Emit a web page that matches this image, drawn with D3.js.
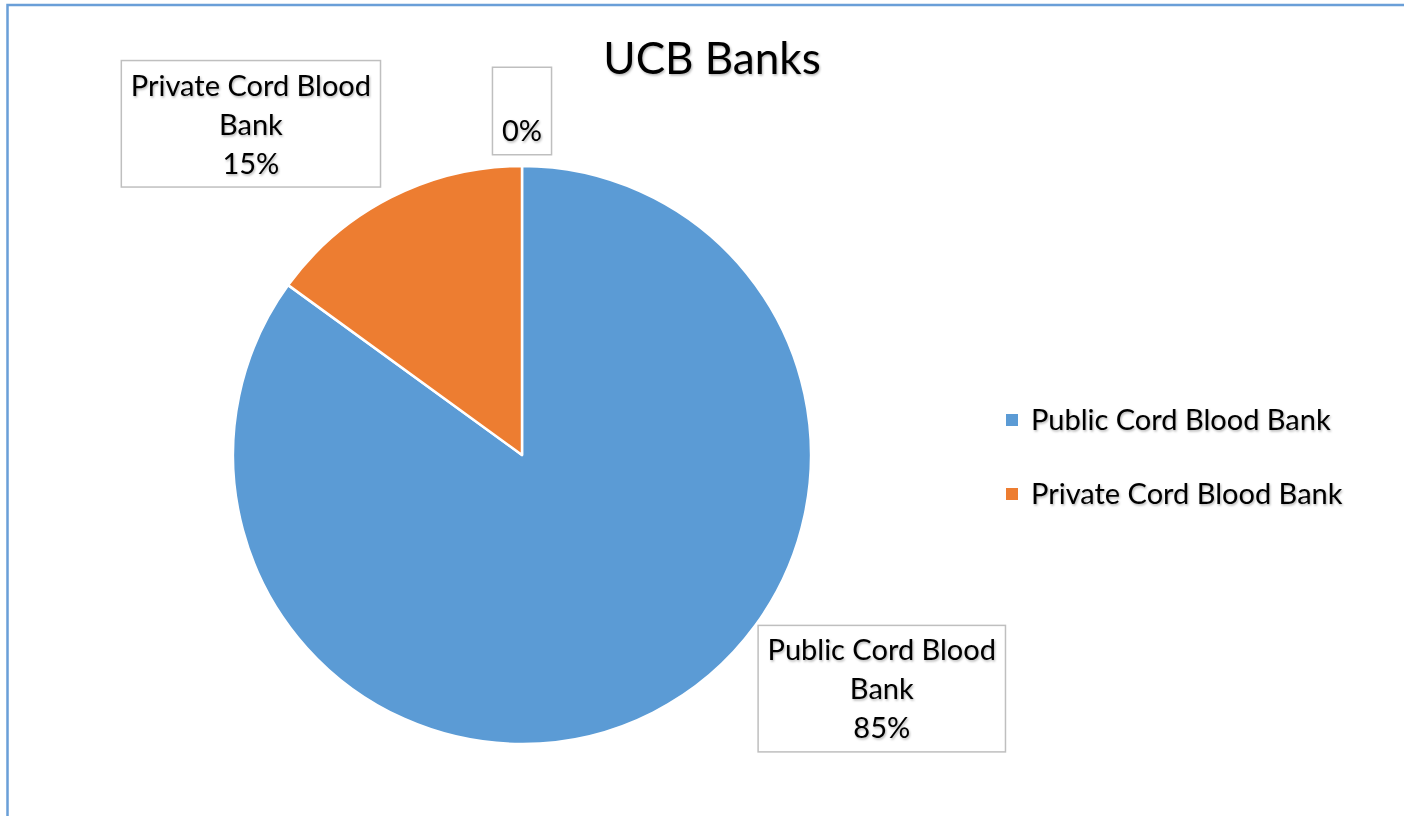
<!DOCTYPE html>
<html>
<head>
<meta charset="utf-8">
<script src="https://cdn.jsdelivr.net/npm/d3@7"></script>
<style>
  body { margin: 0; background: #fff; }
  text { font-family: Lato, "Open Sans", sans-serif; fill: #000; }
</style>
</head>
<body>
<div id="chart"></div>
<script>
// data
const categories = ["Public Cord Blood Bank", "Private Cord Blood Bank", ""];
const values = [85, 15, 0];
const labelLines = [["Public Cord Blood", "Bank"], ["Private Cord Blood", "Bank"], [""]];
const colors = ["#5B9BD5", "#ED7D31", "#A5A5A5"];
const title = "UCB Banks";

// layout
const width = 1404, height = 816;
const cx = 522, cy = 455, radius = 289;
const fontSize = 29, titleSize = 44, lineH = 39;
// where excel's "best fit" put each label box (angle in degrees, distance from centre)
const labelPlace = [{a: 123, r: 429}, {a: 320.7, r: 428}, {a: 0, r: 344}];

const svg = d3.select("#chart").append("svg")
  .attr("width", width)
  .attr("height", height);

const defs = svg.append("defs");
const shadow = defs.append("filter").attr("id", "shadow")
  .attr("x", "-10%").attr("y", "-10%").attr("width", "130%").attr("height", "140%");
shadow.append("feDropShadow")
  .attr("dx", 1).attr("dy", 1.5).attr("stdDeviation", 1)
  .attr("flood-color", "#000").attr("flood-opacity", 0.3);

// chart area border
svg.append("rect")
  .attr("x", 7.5).attr("y", 5)
  .attr("width", width + 20).attr("height", height + 20)
  .attr("fill", "none")
  .attr("stroke", "#6A9FD8")
  .attr("stroke-width", 2.5);

// title
svg.append("text")
  .attr("x", 712).attr("y", 74)
  .attr("text-anchor", "middle")
  .attr("font-size", titleSize)
  .attr("filter", "url(#shadow)")
  .text(title);

const data = categories.map((c, i) => ({name: c, value: values[i], lines: labelLines[i], color: colors[i]}));
const total = d3.sum(values);

const pie = d3.pie().sort(null).value(d => d.value);
const arc = d3.arc().innerRadius(0).outerRadius(radius);
const arcs = pie(data);

const g = svg.append("g").attr("transform", `translate(${cx},${cy})`);

g.selectAll("path.slice")
  .data(arcs.filter(d => d.data.value > 0))
  .join("path")
  .attr("class", "slice")
  .attr("d", arc)
  .attr("fill", d => d.data.color)
  .attr("stroke", "#fff")
  .attr("stroke-width", 2.5)
  .attr("stroke-linejoin", "round");

// data labels
const labels = g.selectAll("g.label")
  .data(arcs)
  .join("g")
  .attr("class", "label")
  .each(function(d, i) {
    const sel = d3.select(this);
    const p = labelPlace[i];
    const ang = p.a * Math.PI / 180;
    const lx = p.r * Math.sin(ang), ly = -p.r * Math.cos(ang);
    const lines = d.data.lines.concat([d3.format(".0%")(d.data.value / total)]);
    const boxH = 35 + (lines.length - 1) * lineH + 13.5;
    const rect = sel.append("rect")
      .attr("fill", "#fff")
      .attr("stroke", "#BFBFBF")
      .attr("stroke-width", 1.5);
    const txt = sel.append("text")
      .attr("text-anchor", "middle")
      .attr("font-size", fontSize)
      .attr("filter", "url(#shadow)");
    lines.forEach((l, k) => {
      txt.append("tspan")
        .attr("x", lx)
        .attr("y", ly - boxH / 2 + 35 + k * lineH)
        .text(l);
    });
    let w = 0;
    txt.selectAll("tspan").each(function() { w = Math.max(w, this.getComputedTextLength()); });
    const boxW = w + 19;
    rect.attr("x", lx - boxW / 2).attr("y", ly - boxH / 2)
      .attr("width", boxW).attr("height", boxH);
  });

// legend
const legendY = d3.scalePoint()
  .domain(categories.filter(c => c !== ""))
  .range([420, 494]);

const legend = svg.selectAll("g.legend")
  .data(data.filter(d => d.name !== ""))
  .join("g")
  .attr("class", "legend")
  .attr("transform", d => `translate(1006,${legendY(d.name)})`);

legend.append("rect")
  .attr("x", 0).attr("y", -6)
  .attr("width", 12).attr("height", 12)
  .attr("fill", d => d.color);

legend.append("text")
  .attr("x", 25).attr("y", 10)
  .attr("font-size", fontSize)
  .attr("filter", "url(#shadow)")
  .text(d => d.name);
</script>
</body>
</html>
